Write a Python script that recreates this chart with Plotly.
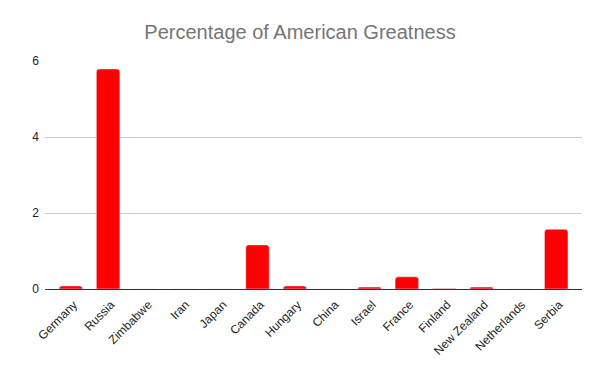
import plotly.graph_objects as go

countries = ["Germany", "Russia", "Zimbabwe", "Iran", "Japan", "Canada", "Hungary",
             "China", "Israel", "France", "Finland", "New Zealand", "Netherlands", "Serbia"]
values = [0.08, 5.79, 0, 0, 0, 1.16, 0.08, 0, 0.05, 0.32, 0.01, 0.05, 0, 1.57]

fig = go.Figure(go.Bar(x=countries, y=values, marker=dict(color="#ff0000", cornerradius=3)))

fig.update_layout(
    width=600, height=371,
    margin=dict(l=45, r=18, t=61, b=82),
    paper_bgcolor="white", plot_bgcolor="white",
    font=dict(family="Liberation Sans, Arial, sans-serif", color="#222"),
    title=dict(text="Percentage of American Greatness", x=0.5, xanchor="center",
               y=0.915, yanchor="middle", font=dict(size=20, color="#757575")),
    bargap=0.37,
    showlegend=False,
)
fig.update_xaxes(tickangle=-45, tickfont=dict(size=12, color="#222"), showgrid=False,
                 showline=True, linecolor="#333", linewidth=1, ticks="",
                 ticklabelstandoff=3, ticklabelshift=3, range=[-0.69, 13.69])
fig.update_yaxes(range=[0, 6], tickvals=[0, 2, 4, 6], tickfont=dict(size=12, color="#222"),
                 showgrid=True, gridcolor="#cccccc", zeroline=False, ticks="",
                 ticklabelstandoff=5)

fig.write_html("out.html", config={"displayModeBar": False})

with open("out.html", encoding="utf-8") as f:
    html = f.read()
html = html.replace("<body>", '<body style="margin:0;padding:0">', 1)
with open("out.html", "w", encoding="utf-8") as f:
    f.write(html)
